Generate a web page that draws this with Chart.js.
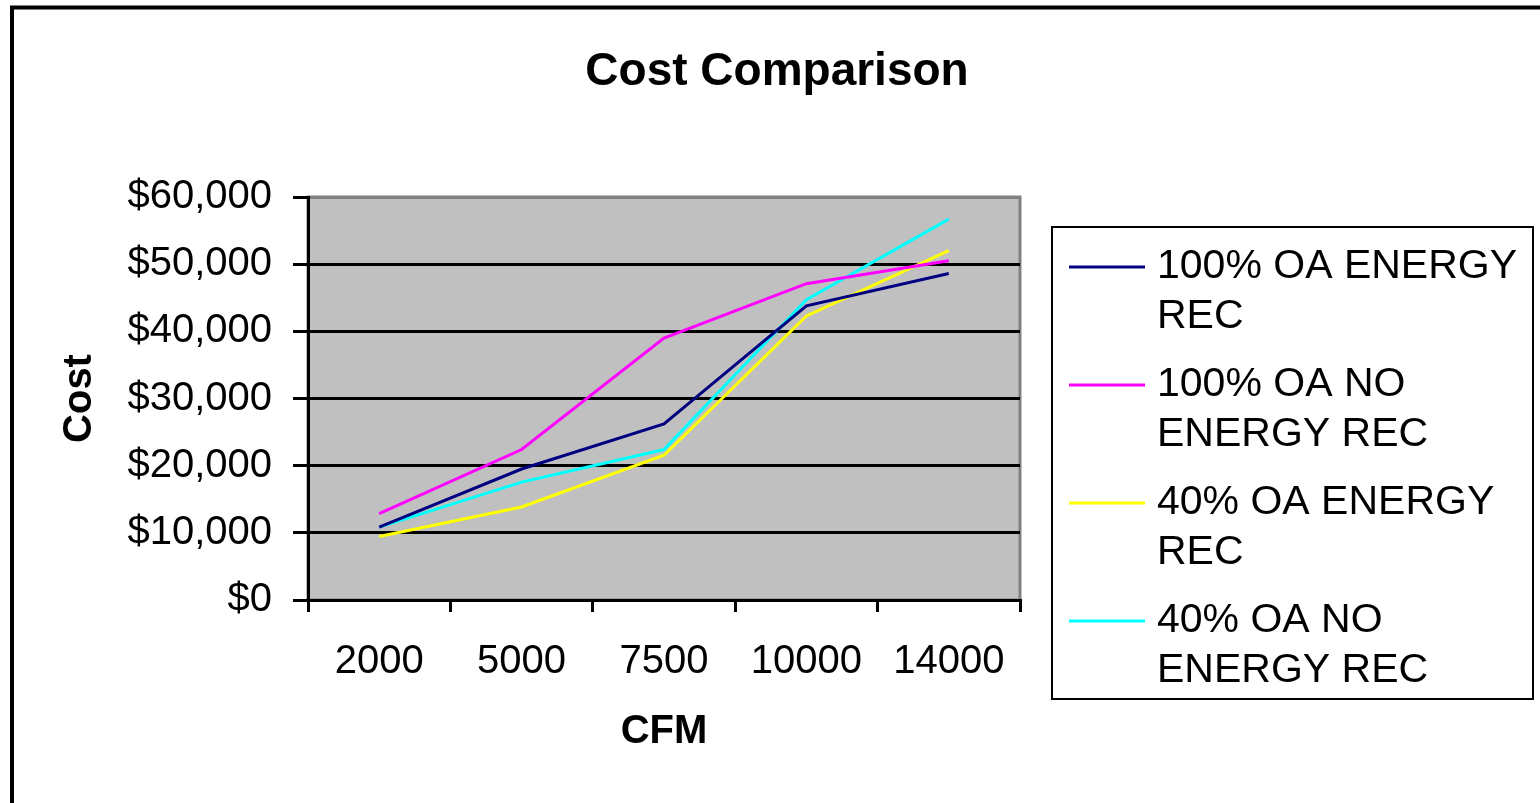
<!DOCTYPE html>
<html>
<head>
<meta charset="utf-8">
<script src="https://cdn.jsdelivr.net/npm/chart.js@4/dist/chart.umd.min.js"></script>
<style>
  body { margin: 0; background: #fff; }
  canvas { display: block; }
</style>
</head>
<body>
<canvas id="costChart" width="1540" height="803"></canvas>
<script>
// CFM categories
const cfm = ['2000', '5000', '7500', '10000', '14000'];

// cost per system type
const oa100EnergyRec = [10850, 19500, 26200, 43800, 48600];
const oa100NoEnergyRec = [12850, 22400, 39000, 47100, 50500];
const oa40EnergyRec = [9450, 13850, 21550, 42300, 52000];
const oa40NoEnergyRec = [10850, 17550, 22400, 44700, 56700];

const yTickLabels = ['$0', '$10,000', '$20,000', '$30,000', '$40,000', '$50,000', '$60,000'];

const FONT = '"Liberation Sans", Arial, sans-serif';

// gray plot background + outer chart frame + wrapped legend
const framePlugin = {
    id: 'frame',
    beforeDraw(chart) {
        const { ctx, chartArea: a } = chart;
        ctx.save();
        ctx.fillStyle = '#fff';
        ctx.fillRect(0, 0, chart.width, chart.height);
        ctx.fillStyle = '#C0C0C0';
        ctx.fillRect(a.left, a.top, a.right - a.left, a.bottom - a.top);
        ctx.strokeStyle = '#808080';
        ctx.lineWidth = 3;
        ctx.strokeRect(a.left, a.top, a.right - a.left, a.bottom - a.top);
        ctx.restore();
    },
    afterDraw(chart) {
        const ctx = chart.ctx;
        ctx.save();
        // outer frame (right and bottom edges fall outside the canvas)
        ctx.strokeStyle = '#000';
        ctx.lineWidth = 4;
        ctx.strokeRect(12, 7.5, 1560, 820);

        // title
        ctx.fillStyle = '#000';
        ctx.font = 'bold 46px ' + FONT;
        ctx.textAlign = 'center';
        ctx.textBaseline = 'alphabetic';
        ctx.fillText('Cost Comparison', 777, 85);

        // legend box
        ctx.lineWidth = 2;
        ctx.strokeRect(1052, 227, 481, 472);
        ctx.font = '41px ' + FONT;
        ctx.textAlign = 'left';
        ctx.textBaseline = 'middle';
        chart.data.datasets.forEach((ds, i) => {
            const y = 267 + i * 118;
            ctx.strokeStyle = ds.borderColor;
            ctx.lineWidth = 3;
            ctx.beginPath();
            ctx.moveTo(1069, y);
            ctx.lineTo(1145, y);
            ctx.stroke();
            // wrap label
            const words = ds.label.split(' ');
            const lines = [];
            let cur = '';
            words.forEach(w => {
                const test = cur ? cur + ' ' + w : w;
                if (ctx.measureText(test).width > 370 && cur) {
                    lines.push(cur);
                    cur = w;
                } else {
                    cur = test;
                }
            });
            lines.push(cur);
            ctx.fillStyle = '#000';
            lines.forEach((ln, j) => ctx.fillText(ln, 1157, y + j * 50));
        });
        ctx.restore();
    }
};

const ctx = document.getElementById('costChart').getContext('2d');

new Chart(ctx, {
    type: 'line',
    data: {
        labels: cfm,
        datasets: [
            { label: '100% OA ENERGY REC', data: oa100EnergyRec, borderColor: '#000080' },
            { label: '100% OA NO ENERGY REC', data: oa100NoEnergyRec, borderColor: '#FF00FF' },
            { label: '40% OA ENERGY REC', data: oa40EnergyRec, borderColor: '#FFFF00' },
            { label: '40% OA NO ENERGY REC', data: oa40NoEnergyRec, borderColor: '#00FFFF' }
        ]
    },
    options: {
        responsive: false,
        animation: false,
        layout: { padding: { left: 0, right: 520, top: 197, bottom: 0 } },
        elements: {
            line: { borderWidth: 3, tension: 0 },
            point: { radius: 0, hoverRadius: 0 }
        },
        plugins: {
            legend: { display: false },
            title: { display: false },
            tooltip: { enabled: false }
        },
        scales: {
            x: {
                offset: true,
                afterFit: s => { s.height = 203; },
                grid: {
                    offset: true,
                    drawOnChartArea: false,
                    drawTicks: true,
                    tickLength: 12,
                    color: '#000',
                    lineWidth: 3
                },
                border: { color: '#000', width: 3 },
                ticks: {
                    color: '#000',
                    padding: 26,
                    maxRotation: 0,
                    font: { family: FONT, size: 40 }
                },
                title: {
                    display: true,
                    text: 'CFM',
                    color: '#000',
                    padding: { top: 0, bottom: 47 },
                    font: { family: FONT, size: 40, weight: 'bold' }
                }
            },
            y: {
                min: 0,
                max: 60000,
                afterFit: s => { s.width = 308; },
                grid: {
                    color: c => (c.tick && c.tick.value === 60000 ? '#808080' : '#000'),
                    tickColor: '#000',
                    lineWidth: 3,
                    tickLength: 15
                },
                border: { color: '#000', width: 3 },
                ticks: {
                    stepSize: 10000,
                    color: '#000',
                    padding: 21,
                    font: { family: FONT, size: 40 },
                    callback: (v, i) => yTickLabels[i]
                },
                title: {
                    display: true,
                    text: 'Cost',
                    color: '#000',
                    padding: { top: 56, bottom: 0 },
                    font: { family: FONT, size: 40, weight: 'bold' }
                }
            }
        }
    },
    plugins: [framePlugin]
});
</script>
</body>
</html>
